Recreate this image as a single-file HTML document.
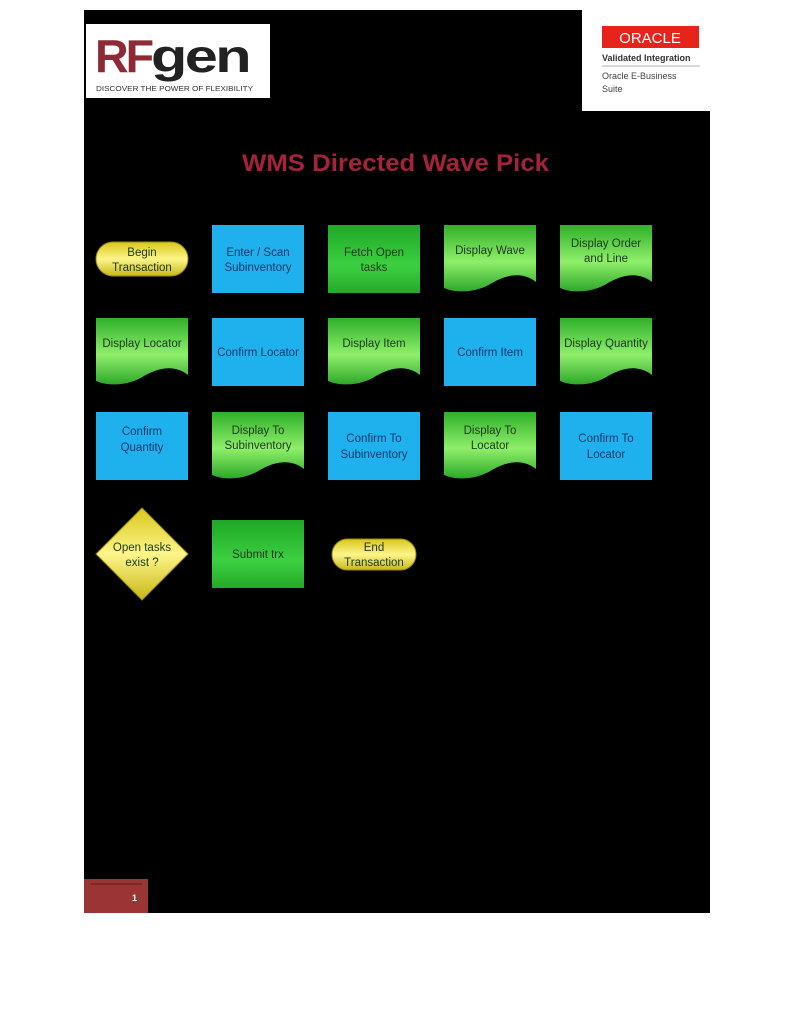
<!DOCTYPE html>
<html><head><meta charset="utf-8"><style>
body{margin:0;background:#fff;width:791px;height:1024px;overflow:hidden}
svg{display:block}
text{font-family:"Liberation Sans",sans-serif}
.l{font-size:11.5px;fill:#1d3a1d;text-anchor:middle}
.b{font-size:11.5px;fill:#0b3a6a;text-anchor:middle}
</style></head><body>
<svg width="791" height="1024" viewBox="0 0 791 1024">
<defs>
<linearGradient id="g" x1="0" y1="0" x2="0" y2="1"><stop offset="0" stop-color="#2fb02a"/><stop offset="0.55" stop-color="#8fef6a"/><stop offset="1" stop-color="#2ea82a"/></linearGradient>
<linearGradient id="gs" x1="0" y1="0" x2="0" y2="1"><stop offset="0" stop-color="#20a828"/><stop offset="0.6" stop-color="#3cd040"/><stop offset="1" stop-color="#27a82a"/></linearGradient>
<linearGradient id="y" x1="0" y1="0" x2="0" y2="1"><stop offset="0" stop-color="#d8c81a"/><stop offset="0.5" stop-color="#fdf58a"/><stop offset="1" stop-color="#c8b818"/></linearGradient>
<path id="doc" d="M0 0 H92 V57 C78 46 62 50 48 58 C34 67 14 69 0 63 Z"/>
</defs>
<rect x="84" y="10" width="626" height="903" fill="#000"/>
<rect x="86" y="24" width="184" height="74" fill="#fff"/>
<text x="95" y="72" font-size="46" font-weight="bold" fill="#8e2a35" letter-spacing="-3" textLength="56" lengthAdjust="spacingAndGlyphs">RF</text>
<text x="151" y="72" font-size="46" font-weight="bold" fill="#222" letter-spacing="-2" textLength="98" lengthAdjust="spacingAndGlyphs">gen</text>
<text x="96" y="91" font-size="7.5" fill="#333" textLength="157" lengthAdjust="spacingAndGlyphs">DISCOVER THE POWER OF FLEXIBILITY</text>
<rect x="582" y="10" width="128" height="101" fill="#fff"/>
<rect x="602" y="26" width="97" height="22" fill="#e8231b"/>
<text x="650" y="43" font-size="15" fill="#fff" text-anchor="middle">ORACLE</text>
<text x="602" y="61" font-size="9" font-weight="bold" fill="#333">Validated Integration</text>
<line x1="602" y1="66" x2="700" y2="66" stroke="#999" stroke-width="0.7"/>
<text x="602" y="79" font-size="9" fill="#444">Oracle E-Business</text>
<text x="602" y="92" font-size="9" fill="#444">Suite</text>
<text x="395.5" y="171" font-size="24" font-weight="bold" fill="#a3243a" text-anchor="middle" textLength="307" lengthAdjust="spacingAndGlyphs">WMS Directed Wave Pick</text>

<rect x="96" y="242" width="92" height="34" rx="17" fill="url(#y)" stroke="#9a8a10"/>
<text class="l" x="142" y="256" fill="#333">Begin</text><text class="l" x="142" y="271">Transaction</text>
<rect x="212" y="225" width="92" height="68" fill="#1fb0ee"/>
<text class="b" x="258" y="256">Enter / Scan</text><text class="b" x="258" y="271">Subinventory</text>
<rect x="328" y="225" width="92" height="68" fill="url(#gs)"/>
<text class="l" x="374" y="256">Fetch Open</text><text class="l" x="374" y="271">tasks</text>
<use href="#doc" x="444" y="225" fill="url(#g)"/>
<text class="l" x="490" y="254">Display Wave</text>
<use href="#doc" x="560" y="225" fill="url(#g)"/>
<text class="l" x="606" y="247">Display Order</text><text class="l" x="606" y="262">and Line</text>

<use href="#doc" x="96" y="318" fill="url(#g)"/>
<text class="l" x="142" y="347">Display Locator</text>
<rect x="212" y="318" width="92" height="68" fill="#1fb0ee"/>
<text class="b" x="258" y="356">Confirm Locator</text>
<use href="#doc" x="328" y="318" fill="url(#g)"/>
<text class="l" x="374" y="347">Display Item</text>
<rect x="444" y="318" width="92" height="68" fill="#1fb0ee"/>
<text class="b" x="490" y="356">Confirm Item</text>
<use href="#doc" x="560" y="318" fill="url(#g)"/>
<text class="l" x="606" y="347">Display Quantity</text>

<rect x="96" y="412" width="92" height="68" fill="#1fb0ee"/>
<text class="b" x="142" y="435">Confirm</text><text class="b" x="142" y="451">Quantity</text>
<use href="#doc" x="212" y="412" fill="url(#g)"/>
<text class="l" x="258" y="434">Display To</text><text class="l" x="258" y="449">Subinventory</text>
<rect x="328" y="412" width="92" height="68" fill="#1fb0ee"/>
<text class="b" x="374" y="442">Confirm To</text><text class="b" x="374" y="458">Subinventory</text>
<use href="#doc" x="444" y="412" fill="url(#g)"/>
<text class="l" x="490" y="434">Display To</text><text class="l" x="490" y="449">Locator</text>
<rect x="560" y="412" width="92" height="68" fill="#1fb0ee"/>
<text class="b" x="606" y="442">Confirm To</text><text class="b" x="606" y="458">Locator</text>

<polygon points="142,508 188,554 142,600 96,554" fill="url(#y)" stroke="#9a8a10"/>
<text class="l" x="142" y="551">Open tasks</text><text class="l" x="142" y="566">exist ?</text>
<rect x="212" y="520" width="92" height="68" fill="url(#gs)"/>
<text class="l" x="258" y="558">Submit trx</text>
<rect x="332" y="539" width="84" height="31" rx="15.5" fill="url(#y)" stroke="#9a8a10"/>
<text class="l" x="374" y="551">End</text><text class="l" x="374" y="566">Transaction</text>

<rect x="84" y="879" width="64" height="34" fill="#9b3535"/>
<line x1="91" y1="884" x2="142" y2="884" stroke="#5a1a1a"/>
<text x="137" y="901" font-size="9" font-weight="bold" fill="#fff" text-anchor="end">1</text>
</svg>
</body></html>
